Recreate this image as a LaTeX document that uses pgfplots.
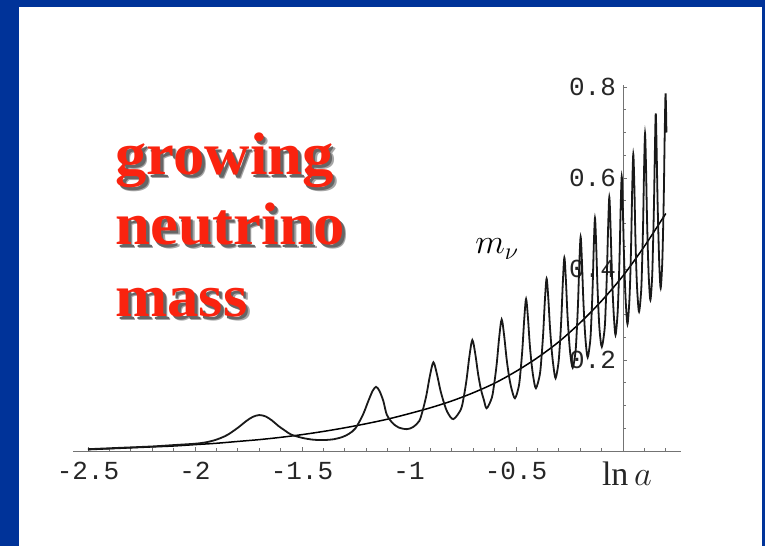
\documentclass[border=0pt]{standalone}
\usepackage{fontspec}
\setmainfont{Liberation Serif}
\newfontfamily\monofont{Liberation Mono}
\usepackage{pgfplots}
\pgfplotsset{compat=1.18}
\definecolor{frameblue}{RGB}{0,51,153}
\definecolor{titlered}{RGB}{250,35,15}
\begin{document}
\begin{tikzpicture}
\useasboundingbox (0,0) rectangle (382.5pt,273pt);
\fill[white] (0,0) rectangle (382.5pt,273pt);
\fill[frameblue] (0,0) rectangle (9.5pt,273pt);
\fill[frameblue] (0,269.5pt) rectangle (382.5pt,273pt);
\fill[frameblue] (381pt,0) rectangle (382.5pt,273pt);
% title with shadow
\begin{scope}[every node/.style={anchor=base west, inner sep=0pt, font=\fontsize{30}{30}\selectfont\bfseries, xscale=1.045}]
\node[text=black!35] at (59.5pt,183.6pt) {growing};
\node[text=black!35] at (59.5pt,148.6pt) {neutrino};
\node[text=black!35] at (59.5pt,112.6pt) {mass};
\node[text=black!60] at (58.8pt,184.2pt) {growing};
\node[text=black!60] at (58.8pt,149.2pt) {neutrino};
\node[text=black!60] at (58.8pt,113.2pt) {mass};
\node[text=titlered] at (57.5pt,185.5pt) {growing};
\node[text=titlered] at (57.5pt,150.5pt) {neutrino};
\node[text=titlered] at (57.5pt,114.5pt) {mass};
\end{scope}
\begin{axis}[
  at={(311.5pt,47.5pt)}, anchor=origin,
  x=107pt, y=227.5pt,
  xmin=-2.57, xmax=0.27, ymin=0, ymax=0.805,
  axis lines=middle,
  axis line style={-, black!55, line width=0.5pt},
  clip=false,
  hide obscured x ticks=false,
  hide obscured y ticks=false,
  tick align=inside,
  major tick length=2.2pt, minor tick length=1.3pt,
  every tick/.style={black!55, line width=0.4pt},
  xtick={-2.5,-2,-1.5,-1,-0.5,0},
  xticklabels={-2.5,-2,-1.5,-1,-0.5,{\fontsize{17}{17}\selectfont\hspace*{4pt}\raisebox{2pt}{$\ln a$}}},
  minor xtick={-2.4,-2.3,-2.2,-2.1,-1.9,-1.8,-1.7,-1.6,-1.4,-1.3,-1.2,-1.1,-0.9,-0.8,-0.7,-0.6,-0.4,-0.3,-0.2,-0.1,0.1,0.2},
  ytick={0.2,0.4,0.6,0.8},
  yticklabels={0.2,0.4,0.6,0.8},
  minor ytick={0.05,0.1,0.15,0.25,0.3,0.35,0.45,0.5,0.55,0.65,0.7,0.75},
  ticklabel style={font=\monofont\fontsize{13}{13}\selectfont, text=black!85},
  xticklabel style={yshift=-2pt},
]
% mean (smooth) mass
\addplot[black, line width=0.75pt, smooth] coordinates {
(-2.5,0.003) (-2.4,0.005) (-2.3,0.007) (-2.2,0.009) (-2.1,0.011) (-2.0,0.014)
(-1.9,0.017) (-1.8,0.021) (-1.7,0.025) (-1.6,0.030) (-1.5,0.036) (-1.4,0.043)
(-1.3,0.051) (-1.2,0.060) (-1.1,0.070) (-1.0,0.082) (-0.9,0.095) (-0.8,0.110)
(-0.7,0.128) (-0.6,0.149) (-0.5,0.175) (-0.4,0.205) (-0.3,0.240) (-0.2,0.282)
(-0.1,0.330) (0.0,0.385) (0.1,0.450) (0.2,0.522)
};
% oscillating mass
\addplot[black!90, line width=0.9pt, smooth] coordinates {
(-2.5,0.004) (-2.35,0.007) (-2.2,0.010) (-2.1,0.013) (-2.0,0.016) (-1.95,0.019)
(-1.90,0.025) (-1.85,0.035) (-1.80,0.051) (-1.76,0.066) (-1.73,0.075) (-1.70,0.079)
(-1.67,0.076) (-1.64,0.067) (-1.61,0.055) (-1.58,0.045) (-1.55,0.036) (-1.50,0.029)
(-1.45,0.025) (-1.40,0.024) (-1.35,0.026) (-1.31,0.031) (-1.28,0.038) (-1.25,0.050)
(-1.215,0.080) (-1.19,0.110) (-1.17,0.132) (-1.154,0.141) (-1.138,0.132)
(-1.12,0.110) (-1.104,0.080) (-1.08,0.063) (-1.05,0.052) (-1.01,0.048)
(-0.98,0.053) (-0.952,0.066) (-0.936,0.089) (-0.919,0.122) (-0.902,0.166) (-0.886,0.195)
(-0.870,0.170) (-0.853,0.133) (-0.836,0.105) (-0.820,0.085) (-0.793,0.070)
(-0.758,0.091) (-0.744,0.119) (-0.731,0.157) (-0.7175,0.209) (-0.704,0.244)
(-0.6905,0.214) (-0.677,0.169) (-0.664,0.136) (-0.650,0.112) (-0.637,0.094)
(-0.613,0.117) (-0.6015,0.149) (-0.590,0.192) (-0.5785,0.250) (-0.567,0.289)
(-0.5555,0.254) (-0.544,0.203) (-0.5325,0.164) (-0.521,0.137) (-0.505,0.116)
(-0.487,0.142) (-0.4785,0.177) (-0.470,0.225) (-0.4615,0.290) (-0.453,0.334)
(-0.4445,0.295) (-0.436,0.236) (-0.4275,0.193) (-0.419,0.162) (-0.407,0.138)
(-0.389,0.167) (-0.381,0.205) (-0.373,0.258) (-0.365,0.331) (-0.357,0.379)
(-0.349,0.335) (-0.341,0.270) (-0.333,0.221) (-0.325,0.186) (-0.315,0.160)
(-0.302,0.192) (-0.295,0.234) (-0.288,0.293) (-0.281,0.372) (-0.274,0.425)
(-0.267,0.377) (-0.260,0.304) (-0.253,0.251) (-0.246,0.212) (-0.235,0.183)
(-0.222,0.218) (-0.216,0.264) (-0.210,0.327) (-0.204,0.413) (-0.198,0.471)
(-0.192,0.418) (-0.186,0.339) (-0.180,0.280) (-0.174,0.238) (-0.165,0.206)
(-0.153,0.243) (-0.1475,0.292) (-0.142,0.359) (-0.1365,0.451) (-0.131,0.512)
(-0.1255,0.455) (-0.120,0.371) (-0.1145,0.308) (-0.109,0.263) (-0.099,0.229)
(-0.086,0.268) (-0.0805,0.321) (-0.075,0.394) (-0.0695,0.492) (-0.064,0.558)
(-0.0585,0.497) (-0.053,0.407) (-0.0475,0.340) (-0.042,0.291) (-0.035,0.255)
(-0.026,0.297) (-0.021,0.352) (-0.016,0.429) (-0.011,0.533) (-0.006,0.603)
(-0.001,0.538) (0.004,0.441) (0.009,0.370) (0.014,0.318) (0.021,0.279)
(0.029,0.324) (0.034,0.383) (0.0385,0.466) (0.043,0.577) (0.048,0.652)
(0.053,0.583) (0.0575,0.479) (0.062,0.403) (0.067,0.348) (0.075,0.306)
(0.085,0.353) (0.0895,0.416) (0.094,0.502) (0.0985,0.620) (0.103,0.698)
(0.1075,0.625) (0.112,0.515) (0.1165,0.434) (0.121,0.376) (0.128,0.332)
(0.136,0.381) (0.140,0.447) (0.1445,0.537) (0.149,0.660) (0.153,0.742)
(0.157,0.665) (0.1615,0.550) (0.166,0.466) (0.170,0.404) (0.176,0.358)
(0.183,0.409) (0.187,0.478) (0.191,0.572) (0.195,0.700) (0.199,0.786) (0.203,0.700)
};
\node[anchor=base west, inner sep=0pt, font=\fontsize{17}{17}\selectfont] at (axis cs:-0.692,0.433) {$m_\nu$};
\end{axis}
\end{tikzpicture}
\end{document}
